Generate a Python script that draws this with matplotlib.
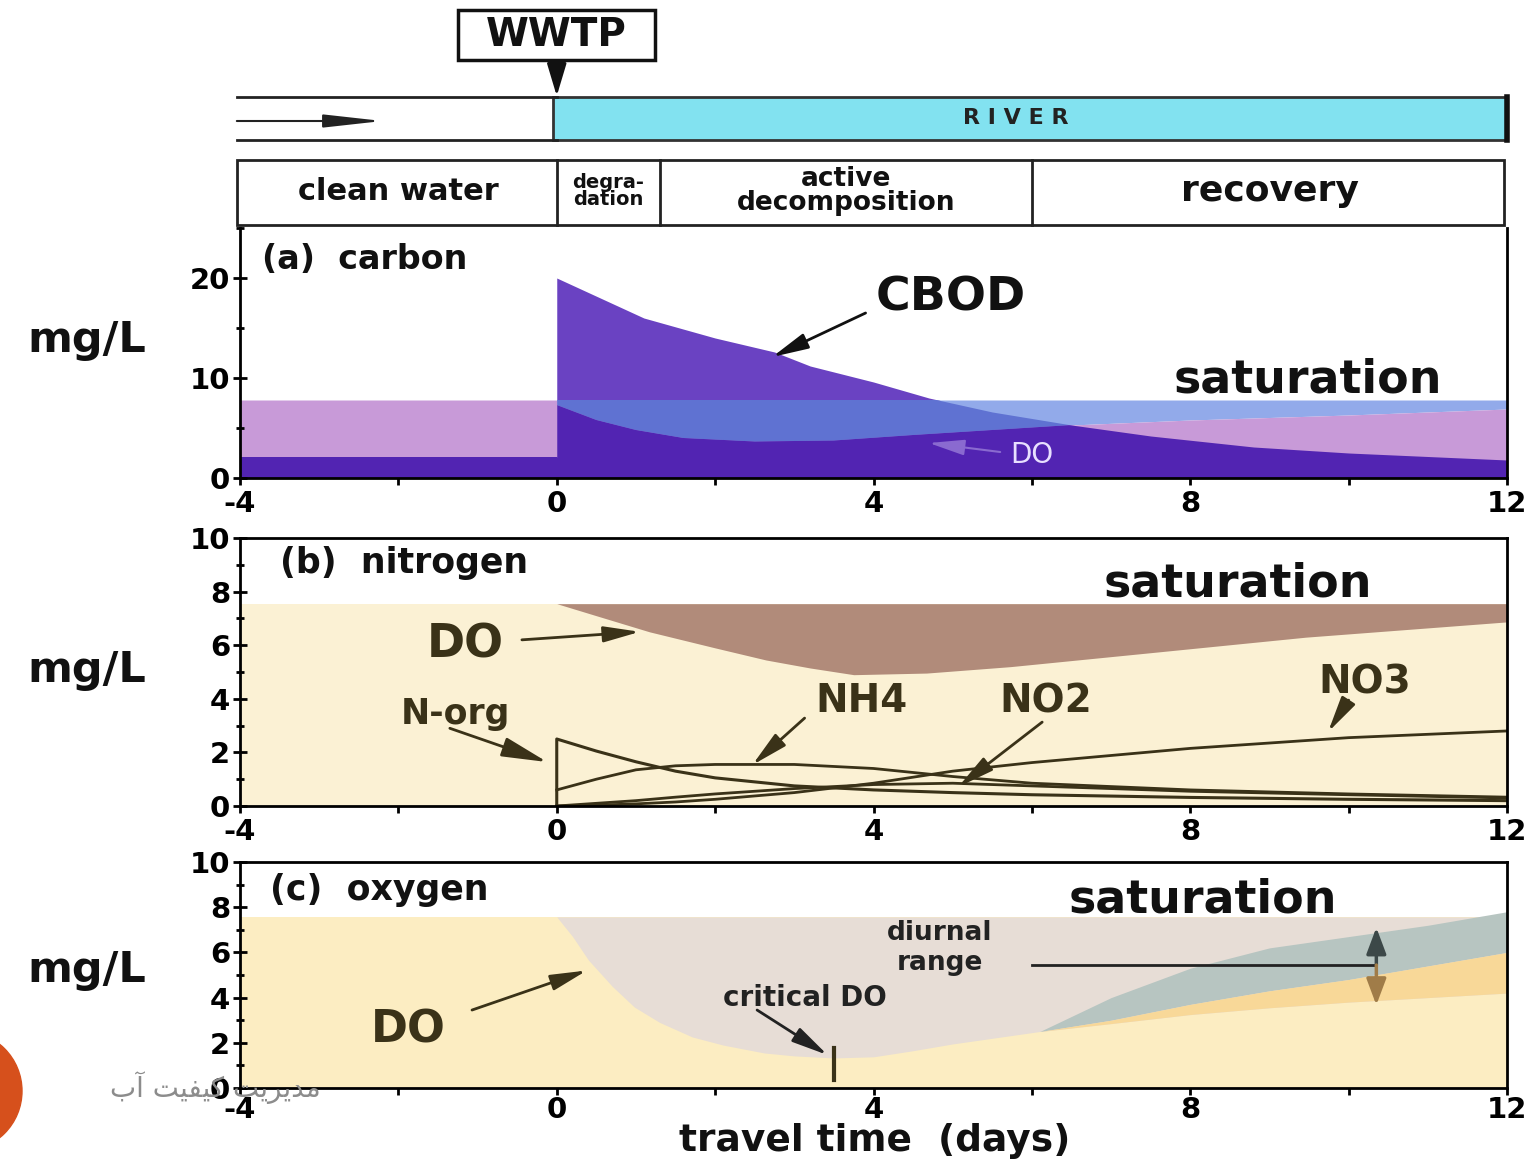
import matplotlib.pyplot as plt
import matplotlib.patches as mpatches
from matplotlib.ticker import MultipleLocator

plt.rcParams['font.family'] = ['DejaVu Sans']
plt.rcParams['font.weight'] = 'bold'
plt.rcParams['axes.unicode_minus'] = False

# river stages (days of travel time)
stage_edges = [-4, 0, 1.3, 6.0, 12]
stage_names = ['clean water', 'degra-\ndation', 'active\ndecomposition', 'recovery']
stage_sizes = [22, 14, 19, 26]

# (a) carbon
sat_a = 7.8
t_cbod = [-4, 0, 0, 1.1, 2.0, 2.75, 3.2, 4.0, 4.7, 5.5, 6.5, 7.5, 8.8, 10, 12]
cbod = [2.1, 2.1, 20, 16, 14.0, 12.6, 11.2, 9.6, 8.0, 6.6, 5.3, 4.2, 3.1, 2.5, 1.8]
t_do_a = [-4, 0, 0, 0.5, 1.0, 1.6, 2.5, 3.5, 4.5, 5.5, 6.5, 8, 10, 12]
do_a = [7.8, 7.8, 7.3, 5.8, 4.8, 4.0, 3.65, 3.75, 4.3, 4.8, 5.3, 5.8, 6.3, 6.9]

# (b) nitrogen
sat_b = 7.55
t_do_b = [0, 0.5, 1.17, 2.0, 2.64, 3.2, 3.75, 4.67, 5.73, 7.6, 9.46, 12]
do_b = [7.55, 7.1, 6.5, 5.9, 5.45, 5.15, 4.9, 4.96, 5.2, 5.75, 6.3, 6.87]
t_norg = [0, 0, 0.5, 1, 1.5, 2, 3, 4, 5, 6, 8, 10, 12]
norg = [0, 2.5, 2.05, 1.65, 1.3, 1.05, 0.75, 0.6, 0.5, 0.42, 0.32, 0.25, 0.2]
t_n = [0, 0.5, 1, 1.5, 2, 3, 4, 5, 6, 8, 10, 12]
nh4 = [0.6, 1.0, 1.35, 1.5, 1.55, 1.55, 1.4, 1.1, 0.85, 0.6, 0.45, 0.33]
no2 = [0, 0.1, 0.2, 0.33, 0.45, 0.65, 0.8, 0.85, 0.75, 0.55, 0.42, 0.3]
no3 = [0, 0.03, 0.08, 0.15, 0.25, 0.5, 0.85, 1.3, 1.62, 2.15, 2.55, 2.8]

# (c) oxygen
sat_c = 7.57
t_do_c = [0, 0.2, 0.4, 0.7, 0.98, 1.3, 1.71, 2.1, 2.62, 3.0, 3.5, 4.0, 4.5, 5.0, 5.5, 6.1]
do_c = [7.57, 6.7, 5.66, 4.5, 3.58, 2.9, 2.26, 1.9, 1.55, 1.42, 1.33, 1.38, 1.65,
        1.95, 2.2, 2.5]
t_diurnal = [6.1, 7, 8, 9, 10, 11, 12]
do_max = [2.5, 4.0, 5.3, 6.2, 6.7, 7.2, 7.8]
do_mean = [2.5, 3.0, 3.7, 4.3, 4.8, 5.4, 6.0]
do_min = [2.5, 2.85, 3.25, 3.55, 3.8, 4.0, 4.2]
t_crit = 3.5

x_ticks = [-4, 0, 4, 8, 12]
INK = '#3a3218'

W, H = 1534, 1163
fig = plt.figure(figsize=(W / 100, H / 100), dpi=100)


def px_axes(x0, y0, x1, y1, **kw):
    return fig.add_axes([x0 / W, 1 - y1 / H, (x1 - x0) / W, (y1 - y0) / H], **kw)


def style(ax, ymax, ymajor, yminor, xpad=4):
    ax.set_xlim(-4, 12)
    ax.set_ylim(0, ymax)
    ax.set_xticks(x_ticks)
    ax.xaxis.set_minor_locator(MultipleLocator(2))
    ax.yaxis.set_major_locator(MultipleLocator(ymajor))
    ax.yaxis.set_minor_locator(MultipleLocator(yminor))
    ax.tick_params(axis='x', which='major', direction='out', length=5, width=2,
                   labelsize=21, pad=xpad)
    ax.tick_params(axis='x', which='minor', direction='out', length=5, width=2)
    ax.tick_params(axis='y', which='major', direction='inout', length=10, width=2,
                   labelsize=21, pad=2)
    ax.tick_params(axis='y', which='minor', direction='inout', length=6, width=2)
    for s in ax.spines.values():
        s.set_linewidth(2)


def arrow(ax, xy, xytext, color=INK, lw=2, hl=1.1, hw=0.24, scale=20):
    ax.annotate('', xy=xy, xytext=xytext,
                arrowprops=dict(arrowstyle=f'-|>,head_length={hl},head_width={hw}',
                                mutation_scale=scale, lw=lw, color=color,
                                shrinkA=0, shrinkB=0))


# ---- header: WWTP, river strip, stages ----
hd = px_axes(240, 0, 1507, 228)
hd.set_xlim(-4, 12)
hd.set_ylim(228, 0)
hd.axis('off')

hd.add_patch(mpatches.Rectangle((-1.25, 10), 2.49, 50, fill=False, lw=2.5,
                                ec='#111', clip_on=False))
hd.text(0, 35, 'WWTP', ha='center', va='center', fontsize=28, color='#111')
arrow(hd, (0, 96), (0, 63), color='#111', hl=1.0, hw=0.3)

hd.plot([-4.04, 0], [97, 97], color='#222', lw=2, clip_on=False)
hd.plot([-4.04, 0], [140, 140], color='#222', lw=2, clip_on=False)
arrow(hd, (-2.2, 121), (-4.04, 121), color='#222', lw=1.5, hl=1.8, hw=0.2)
hd.add_patch(mpatches.Rectangle((-0.05, 97), 12.05, 43, fc='#82e2f0', ec='#333',
                                lw=2, clip_on=False))
hd.plot([12, 12], [97, 140], color='#111', lw=4, clip_on=False)
hd.text(5.8, 118, 'R I V E R', ha='center', va='center', fontsize=16, color='#222')

hd.add_patch(mpatches.Rectangle((-4.04, 160), 16.0, 65, fill=False, lw=2,
                                ec='#222', clip_on=False))
for e in stage_edges[1:-1]:
    hd.plot([e, e], [160, 225], color='#222', lw=2)
for i, name in enumerate(stage_names):
    xc = (stage_edges[i] + stage_edges[i + 1]) / 2
    hd.text(xc, 191, name, ha='center', va='center', fontsize=stage_sizes[i],
            color='#111', linespacing=0.85)

# ---- (a) carbon ----
ax = px_axes(240, 228, 1507, 478)
style(ax, 25, 10, 5)
ax.spines['top'].set_visible(False)
ax.fill_between(t_cbod, 0, cbod, color='#6a42c2', lw=0, zorder=1)
gap = ax.fill_between(t_do_a, do_a, sat_a, color='#92aaea', lw=0, zorder=1.2)
low = ax.fill_between(t_do_a, 0, do_a, color='#c89ad8', lw=0, zorder=1.2)
over_gap = ax.fill_between(t_cbod, 0, cbod, color='#5f72d2', lw=0, zorder=1.4)
over_gap.set_clip_path(gap.get_paths()[0], ax.transData)
over_low = ax.fill_between(t_cbod, 0, cbod, color='#5224b2', lw=0, zorder=1.4)
over_low.set_clip_path(low.get_paths()[0], ax.transData)
ax.text(-3.72, 21.8, '(a)  carbon', ha='left', va='center', fontsize=24, color='#111')
ax.text(4.97, 18.0, 'CBOD', ha='center', va='center', fontsize=34, color='#111')
arrow(ax, (2.72, 12.1), (3.9, 16.5), color='#111')
ax.text(9.49, 9.8, 'saturation', ha='center', va='center', fontsize=33, color='#111')
ax.text(6.0, 2.3, 'DO', ha='center', va='center', fontsize=20, color='#e8e0ff',
        fontweight='normal')
arrow(ax, (4.7, 3.5), (5.6, 2.6), color='#8a6ad0', lw=1.5)

# ---- (b) nitrogen ----
ax = px_axes(240, 538, 1507, 806)
style(ax, 10, 2, 1)
ax.fill_between([-4, 12], 0, sat_b, color='#fbf1d4', lw=0, zorder=1)
ax.fill_between(t_do_b, do_b, sat_b, color='#b18b7a', lw=0, zorder=1.2)
ax.plot(t_norg, norg, color=INK, lw=2.2, zorder=2)
ax.plot(t_n, nh4, color=INK, lw=2, zorder=2)
ax.plot(t_n, no2, color=INK, lw=2, zorder=2)
ax.plot(t_n, no3, color=INK, lw=2, zorder=2)
ax.text(-3.5, 9.07, '(b)  nitrogen', ha='left', va='center', fontsize=25, color='#111')
ax.text(8.6, 8.3, 'saturation', ha='center', va='center', fontsize=33, color='#111')
ax.text(-1.16, 6.0, 'DO', ha='center', va='center', fontsize=33, color=INK)
arrow(ax, (1.05, 6.5), (-0.44, 6.2))
ax.text(-1.28, 3.43, 'N-org', ha='center', va='center', fontsize=25, color=INK)
arrow(ax, (-0.12, 1.64), (-1.35, 2.9), hl=1.4, hw=0.3)
ax.text(3.85, 3.9, 'NH4', ha='center', va='center', fontsize=28, color=INK)
arrow(ax, (2.47, 1.53), (3.13, 3.28))
ax.text(6.17, 3.9, 'NO2', ha='center', va='center', fontsize=28, color=INK)
arrow(ax, (5.07, 0.71), (6.13, 3.13))
ax.text(10.2, 4.6, 'NO3', ha='center', va='center', fontsize=28, color=INK)
arrow(ax, (9.74, 2.76), (10.0, 3.95))

# ---- (c) oxygen ----
ax = px_axes(240, 862, 1507, 1088)
style(ax, 10, 2, 1, xpad=1)
t_low = t_do_c + t_diurnal[1:]
do_low = do_c + do_min[1:]
ax.fill_between([-4, 12], 0, sat_c, color='#fcedc2', lw=0, zorder=1)
ax.fill_between(t_low, do_low, sat_c, color='#e7ddd6', lw=0, zorder=1.1)
ax.fill_between(t_diurnal, do_mean, do_max, color='#b7c5c1', lw=0, zorder=1.2)
ax.fill_between(t_diurnal, do_min, do_mean, color='#f8d898', lw=0, zorder=1.2)
ax.text(-3.62, 8.76, '(c)  oxygen', ha='left', va='center', fontsize=25, color='#111')
ax.text(8.16, 8.3, 'saturation', ha='center', va='center', fontsize=33, color='#111')
ax.text(-1.88, 2.57, 'DO', ha='center', va='center', fontsize=32, color=INK)
arrow(ax, (0.38, 5.2), (-1.07, 3.45))
ax.plot([t_crit, t_crit], [0.35, 1.77], color=INK, lw=3, zorder=2)
ax.text(3.13, 4.0, 'critical DO', ha='center', va='center', fontsize=20, color='#222')
arrow(ax, (3.42, 1.46), (2.53, 3.45), color='#222')
ax.text(4.84, 6.2, 'diurnal\nrange', ha='center', va='center', fontsize=19,
        color='#222', linespacing=1.2)
ax.plot([6.0, 10.35], [5.44, 5.44], color='#222', lw=2, zorder=2)
arrow(ax, (10.35, 7.1), (10.35, 5.44), color='#3c4848', lw=2.5, hl=0.8, hw=0.3)
arrow(ax, (10.35, 3.67), (10.35, 5.44), color='#a07c48', lw=2.5, hl=0.8, hw=0.3)

# ---- free-standing labels ----
pg = fig.add_axes([0, 0, 1, 1], zorder=10)
pg.set_xlim(0, W)
pg.set_ylim(H, 0)
pg.axis('off')
for yc in (340, 670, 970):
    pg.text(87, yc, 'mg/L', ha='center', va='center', fontsize=31, color='#111')
pg.text(875, 1141, 'travel time  (days)', ha='center', va='center', fontsize=27,
        color='#111')
pg.add_patch(mpatches.Circle((-38, 1091), 60, color='#d6501c', clip_on=False))
pg.text(215, 1088, '\ufe8f\ufe81 \ufe96\ufbff\ufed4\ufbff\ufb90 '
        '\ufe96\ufbfe\ufeae\ufbfe\ufeaa\ufee3',
        ha='center', va='center', fontsize=20, fontweight='normal', color='#8c8c8c')

fig.savefig('out.png', dpi=100)
